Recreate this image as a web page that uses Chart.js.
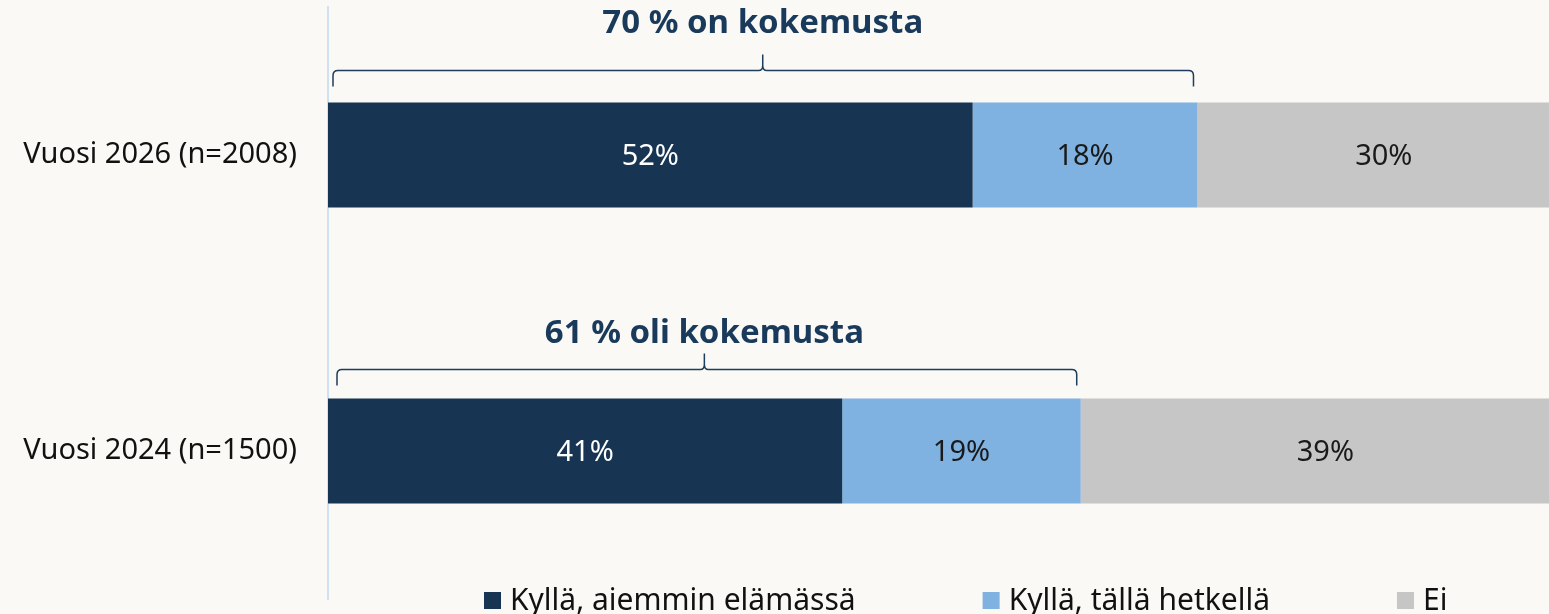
<!DOCTYPE html>
<html>
<head>
<meta charset="utf-8">
<script src="https://cdn.jsdelivr.net/npm/chart.js@4/dist/chart.umd.min.js"></script>
<style>
  html, body { margin: 0; padding: 0; background: #faf9f5; overflow: hidden; }
  canvas { display: block; }
</style>
</head>
<body>
<canvas id="kaavio" width="1549" height="614"></canvas>
<script>
const vuodet = ['Vuosi 2026 (n=2008)', 'Vuosi 2024 (n=1500)'];
const sarjat = ['Kyllä, aiemmin elämässä', 'Kyllä, tällä hetkellä', 'Ei'];
const aiemmin = [51.9, 41.4];
const nyt = [18.1, 19.2];
const ei = [30.0, 39.4];
const otsikot = ['70 % on kokemusta', '61 % oli kokemusta'];
const varit = ['#173553', '#7fb2e0', '#c6c6c6'];
const tekstivarit = ['#ffffff', '#1a1a1a', '#1a1a1a'];

const FONTTI = '"Noto Sans", "Open Sans", sans-serif';

const tausta = {
  id: 'tausta',
  beforeDraw(chart) {
    const c = chart.ctx;
    c.save();
    c.fillStyle = '#faf9f5';
    c.fillRect(0, 0, chart.width, chart.height);
    c.restore();
  }
};

// prosenttiluvut palkkien sisään
const arvot = {
  id: 'arvot',
  afterDatasetsDraw(chart) {
    const c = chart.ctx;
    c.save();
    c.font = '29px ' + FONTTI;
    c.textAlign = 'center';
    c.textBaseline = 'middle';
    chart.data.datasets.forEach((ds, i) => {
      chart.getDatasetMeta(i).data.forEach((bar, j) => {
        const x = (bar.x + bar.base) / 2;
        c.fillStyle = tekstivarit[i];
        c.fillText(Math.round(ds.data[j]) + '%', x, bar.y + 2);
      });
    });
    c.restore();
  }
};

// aaltosulkeet ja otsikot palkkien yläpuolelle
const sulkeet = {
  id: 'sulkeet',
  afterDraw(chart) {
    const c = chart.ctx;
    const xs = chart.scales.x;
    const nousu = [32, 29];
    const otsY = [69.5, 55.5];
    c.save();
    chart.getDatasetMeta(0).data.forEach((bar, j) => {
      const yla = bar.y - bar.height / 2;
      const summa = aiemmin[j] + nyt[j];
      const x0 = xs.getPixelForValue(0) + 5 + j * 4;
      const x1 = xs.getPixelForValue(summa) - 4;
      const xc = xs.getPixelForValue(summa / 2);
      const y = yla - nousu[j];
      c.strokeStyle = '#1f3d5c';
      c.lineWidth = 1.5;
      c.beginPath();
      c.moveTo(x0, y + 16);
      c.lineTo(x0, y + 5);
      c.quadraticCurveTo(x0, y, x0 + 5, y);
      c.lineTo(xc - 4, y);
      c.quadraticCurveTo(xc, y, xc, y - 5);
      c.lineTo(xc, y - 16);
      c.moveTo(xc, y - 5);
      c.quadraticCurveTo(xc, y, xc + 4, y);
      c.lineTo(x1 - 5, y);
      c.quadraticCurveTo(x1, y, x1, y + 5);
      c.lineTo(x1, y + 16);
      c.stroke();

      c.fillStyle = '#1a3a5c';
      c.font = 'bold 33px ' + FONTTI;
      c.textAlign = 'center';
      c.textBaseline = 'alphabetic';
      c.fillText(otsikot[j], xc, yla - otsY[j]);
    });
    c.restore();
  }
};

// selite alareunaan
const selite = {
  id: 'selite',
  afterDraw(chart) {
    const c = chart.ctx;
    c.save();
    c.font = '30px ' + FONTTI;
    c.textBaseline = 'alphabetic';
    c.textAlign = 'left';
    let x = 484;
    const y = 610;
    chart.data.datasets.forEach((ds) => {
      c.fillStyle = ds.backgroundColor;
      c.fillRect(x, 592, 17, 17);
      c.fillStyle = '#111111';
      c.fillText(ds.label, x + 26, y);
      x += 26 + c.measureText(ds.label).width + 127;
    });
    c.restore();
  }
};

new Chart(document.getElementById('kaavio'), {
  type: 'bar',
  data: {
    labels: vuodet,
    datasets: [
      { label: sarjat[0], data: aiemmin, backgroundColor: varit[0] },
      { label: sarjat[1], data: nyt, backgroundColor: varit[1] },
      { label: sarjat[2], data: ei, backgroundColor: varit[2] }
    ]
  },
  options: {
    indexAxis: 'y',
    responsive: false,
    devicePixelRatio: 1,
    animation: false,
    layout: { padding: { top: 7, bottom: 15, left: 0, right: 0 } },
    datasets: { bar: { categoryPercentage: 1, barPercentage: 0.355, borderWidth: 0 } },
    scales: {
      x: { stacked: true, min: 0, max: 98.3, display: false },
      y: {
        stacked: true,
        grid: { display: false },
        border: { display: true, color: '#cfe0f2', width: 2 },
        ticks: { color: '#111111', padding: 23, font: { family: FONTTI, size: 29 } },
        afterFit(scale) {
          scale.width = 328;
          scale.paddingTop = 0;
          scale.paddingBottom = 0;
        }
      }
    },
    plugins: {
      legend: { display: false },
      tooltip: { enabled: false }
    }
  },
  plugins: [tausta, arvot, sulkeet, selite]
});
</script>
</body>
</html>
